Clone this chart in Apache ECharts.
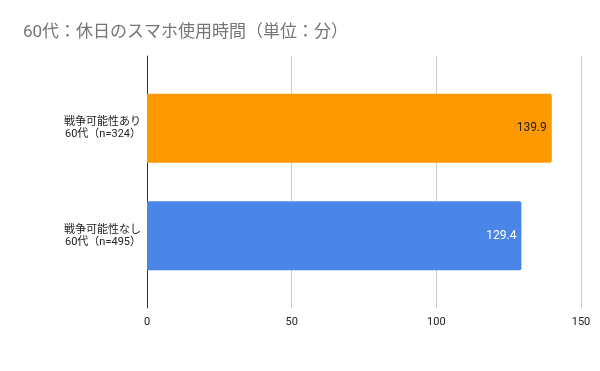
<!DOCTYPE html>
<html>
<head>
<meta charset="utf-8">
<script src="https://cdn.jsdelivr.net/npm/echarts@6/dist/echarts.min.js"></script>
<style>
html,body{margin:0;padding:0;background:#fff;}
#c{width:600px;height:371px;}
</style>
</head>
<body>
<div id="c"></div>
<script>
var titleText = '60代：休日のスマホ使用時間（単位：分）';
var categories = ['戦争可能性あり\n60代（n=324）', '戦争可能性なし\n60代（n=495）'];
var values = [139.9, 129.4];
var barColors = ['#ff9900', '#4a86e8'];
var labelColors = ['#222222', '#ffffff'];
var xMin = 0, xMax = 150, xInterval = 50;

var FONT = 'Roboto, "Noto Sans CJK JP", sans-serif';
var chart = echarts.init(document.getElementById('c'));
chart.setOption({
  animation: false,
  backgroundColor: '#ffffff',
  title: {
    text: titleText,
    left: 18,
    top: 19,
    textStyle: {fontFamily: FONT, fontSize: 17, fontWeight: 'normal', color: '#757575'}
  },
  grid: [
    {left: 147, right: 19, top: 56, bottom: 63},
    {left: 147, right: 19, top: 74.5, bottom: 81.5}
  ],
  xAxis: [
    {
      gridIndex: 0, type: 'value', min: xMin, max: xMax, interval: xInterval,
      axisLine: {show: false}, axisTick: {show: false},
      splitLine: {lineStyle: {color: '#cccccc', width: 1}},
      axisLabel: {color: '#222222', fontSize: 11, fontFamily: FONT, margin: 9}
    },
    {
      gridIndex: 1, type: 'value', min: xMin, max: xMax, interval: xInterval, show: false
    }
  ],
  yAxis: [
    {
      gridIndex: 0, type: 'value', min: 0, max: 1,
      axisLine: {show: true, lineStyle: {color: '#333333', width: 1}},
      axisTick: {show: false}, axisLabel: {show: false}, splitLine: {show: false}
    },
    {
      gridIndex: 1, type: 'category', data: categories, inverse: true,
      axisLine: {show: false}, axisTick: {show: false},
      axisLabel: {color: '#222222', fontSize: 11, fontFamily: FONT, lineHeight: 12, align: 'right', margin: 6}
    }
  ],
  series: [{
    type: 'bar',
    xAxisIndex: 1, yAxisIndex: 1,
    barWidth: 69,
    z: 5,
    data: values.map(function (v, i) {
      return {
        value: v,
        itemStyle: {color: barColors[i], borderRadius: [0, 2, 2, 0]},
        label: {color: labelColors[i]}
      };
    }),
    label: {
      show: true, position: 'insideRight', distance: 5,
      fontSize: 12, fontFamily: FONT
    }
  }]
});
</script>
</body>
</html>
